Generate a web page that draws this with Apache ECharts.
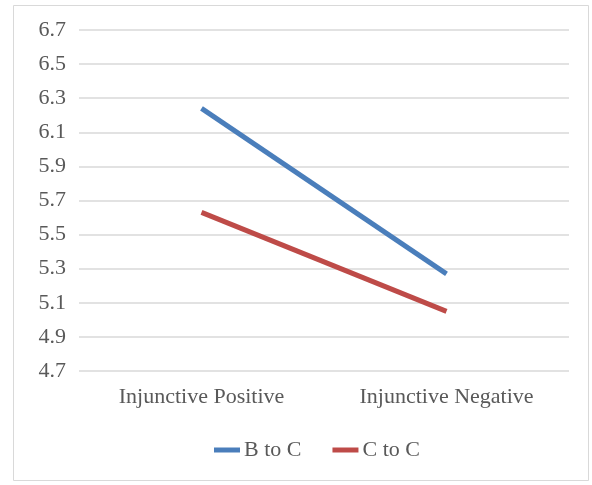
<!DOCTYPE html>
<html>
<head>
<meta charset="utf-8">
<script src="https://cdn.jsdelivr.net/npm/echarts@6/dist/echarts.min.js"></script>
<style>
  html, body { margin: 0; padding: 0; background: #fff; }
  #chart { width: 592px; height: 485px; }
</style>
</head>
<body>
<div id="chart"></div>
<script>
// Mean ratings by message condition
const categories = ['Injunctive Positive', 'Injunctive Negative'];
const seriesNames = ['B to C', 'C to C'];
const bToC = [6.24, 5.27];
const cToC = [5.63, 5.05];

const FONT = '"Liberation Serif", "Times New Roman", serif';
const TEXT = '#595959';

const chart = echarts.init(document.getElementById('chart'), null, { renderer: 'canvas' });
chart.setOption({
  backgroundColor: '#ffffff',
  animation: false,
  graphic: [{
    type: 'rect',
    shape: { x: 13.5, y: 5.5, width: 575, height: 475 },
    style: { fill: 'none', stroke: '#d9d9d9', lineWidth: 1 },
    silent: true
  }],
  grid: { left: 79, right: 23, top: 30, bottom: 114 },
  legend: {
    data: seriesNames,
    bottom: 19,
    left: 209,
    icon: 'rect',
    itemWidth: 26,
    itemHeight: 5,
    itemGap: 31,
    textStyle: { fontFamily: FONT, fontSize: 22, color: TEXT, padding: [0, 0, 0, -1] }
  },
  xAxis: {
    type: 'category',
    data: categories,
    boundaryGap: true,
    axisLine: { show: false },
    axisTick: { show: false },
    axisLabel: { fontFamily: FONT, fontSize: 22, color: TEXT, margin: 15 }
  },
  yAxis: {
    type: 'value',
    min: 4.7,
    max: 6.7,
    interval: 0.2,
    axisLine: { show: false },
    axisTick: { show: false },
    splitLine: { lineStyle: { color: '#d9d9d9', width: 1.5 } },
    axisLabel: {
      fontFamily: FONT, fontSize: 22, color: TEXT, margin: 13,
      formatter: v => v.toFixed(1)
    }
  },
  series: [
    {
      name: seriesNames[0], type: 'line', data: bToC,
      symbol: 'none', color: '#4a7ebb',
      lineStyle: { width: 5, color: '#4a7ebb' }
    },
    {
      name: seriesNames[1], type: 'line', data: cToC,
      symbol: 'none', color: '#be4b48',
      lineStyle: { width: 5, color: '#be4b48' }
    }
  ]
});
</script>
</body>
</html>
